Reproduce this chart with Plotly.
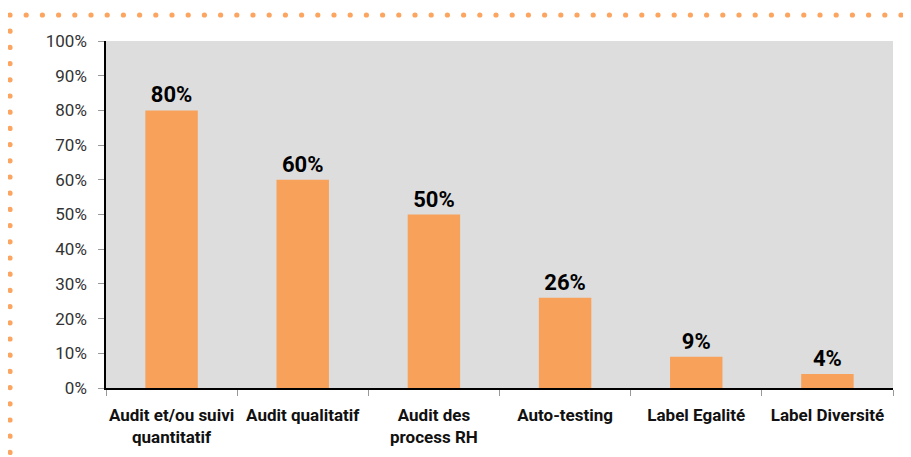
import plotly.graph_objects as go

categories = ["Audit et/ou suivi<br>quantitatif", "Audit qualitatif", "Audit des<br>process RH",
              "Auto-testing", "Label Egalité", "Label Diversité"]
values = [80, 60, 50, 26, 9, 4]
labels = [f"{v}%" for v in values]
y_ticks = list(range(0, 101, 10))
y_tick_labels = [f"{t}%" for t in y_ticks]

OFF = 8  # default page body margin
W, H = 911 - OFF, 457 - OFF
ML, MT = 106 - OFF, 41 - OFF
MR, MB = 18, 69
PW, PH = W - ML - MR, H - MT - MB

ORANGE = "#F8A15B"
DOT = "#FBA560"

fig = go.Figure(go.Bar(
    x=categories, y=values, text=labels, textposition="outside",
    marker_color=ORANGE, marker_line_width=0,
    textfont=dict(family="Roboto", size=22, color="#000000", weight="bold"),
    cliponaxis=False,
))

def px_to_paper(px, py):
    # px, py in screen pixels
    return (px - OFF - ML) / PW, 1 - (py - OFF - MT) / PH

shapes = []
r = 2.6
step = 16.2
def dot(cx, cy):
    x0, y0 = px_to_paper(cx - r, cy - r)
    x1, y1 = px_to_paper(cx + r, cy + r)
    return dict(type="circle", xref="paper", yref="paper", x0=x0, x1=x1, y0=y1, y1=y0,
                fillcolor=DOT, line_width=0, layer="above")

for i in range(56):
    shapes.append(dot(10 + i * step, 15))
for j in range(1, 28):
    shapes.append(dot(10, 15 + j * step))

fig.update_layout(
    width=W, height=H,
    margin=dict(l=ML, r=MR, t=MT, b=MB, autoexpand=False),
    paper_bgcolor="white", plot_bgcolor="#DDDDDD",
    bargap=0.6, showlegend=False,
    font=dict(family="Roboto", size=14, color="#222222"),
    shapes=shapes,
)
fig.update_xaxes(
    showline=True, linecolor="black", linewidth=1.5,
    ticks="outside", tickson="boundaries", ticklen=6, tickcolor="#999999",
    tickfont=dict(family="Roboto", size=17, color="#111111", weight="bold"),
    tickangle=0, automargin=False,
    ticklabelstandoff=11,
    showgrid=False,
)
fig.update_yaxes(
    range=[0, 100], tickvals=y_ticks, ticktext=y_tick_labels,
    showline=True, linecolor="black", linewidth=1.5,
    ticks="outside", ticklen=6, tickcolor="#999999",
    tickfont=dict(family="Roboto", size=17, color="#333333"),
    ticklabelstandoff=8, automargin=False,
    showgrid=False, zeroline=False,
)

fig.write_html("out.html")
